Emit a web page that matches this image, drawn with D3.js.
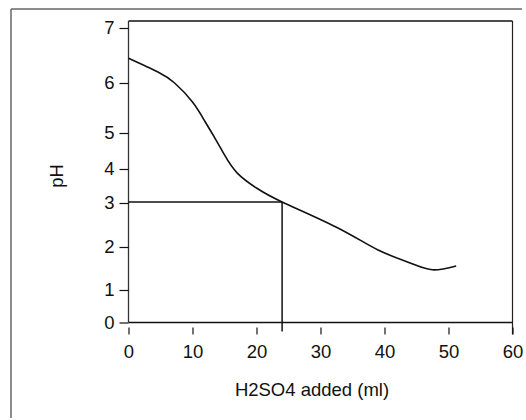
<!DOCTYPE html>
<html>
<head>
    <title>pH vs H2SO4 added</title>
    <script src="https://d3js.org/d3.v7.min.js"></script>
    <style>
        body { margin: 0; background: #fff; }
        text { font-family: "Liberation Sans", Arial, sans-serif; fill: #111; }
        .axis text { font-size: 18.5px; }
        .axis-title { font-size: 18.5px; }
    </style>
</head>
<body>
<div id="chart"></div>
<script>
    // data
    const volume = [0, 4.6, 7.2, 10, 12, 13.5, 15, 17, 20, 24, 32.5, 39, 44, 47.5, 51.2];
    const ph = [6.45, 6.2, 6.0, 5.62, 5.22, 4.86, 4.39, 3.88, 3.44, 3.03, 2.45, 1.93, 1.63, 1.47, 1.56];
    const markX = 24;
    const markY = 3.03;
    const xTicks = [0, 10, 20, 30, 40, 50, 60];
    const yTicks = [0, 1, 2, 3, 4, 5, 6, 7];

    const W = 526, H = 420;
    const plotL = 128.5, plotR = 512.5, plotT = 21, plotB = 322.5;

    const svg = d3.select("#chart").append("svg")
        .attr("width", W).attr("height", H);

    // the y axis of the original is drawn by hand, so the spacing is uneven
    const x = d3.scaleLinear().domain([0, 60]).range([plotL, plotR]);
    const y = d3.scaleLinear().domain(yTicks).range([322.5, 290, 247, 203, 169, 133, 83, 28]);

    // scan border (top and left only)
    svg.append("line").attr("x1", 11).attr("x2", 522).attr("y1", 9).attr("y2", 9)
        .attr("stroke", "#666").attr("stroke-width", 1.5);
    svg.append("line").attr("x1", 11).attr("x2", 11).attr("y1", 9).attr("y2", 418)
        .attr("stroke", "#666").attr("stroke-width", 1.5);

    // plot frame
    svg.append("line").attr("x1", plotL).attr("x2", plotR).attr("y1", plotT).attr("y2", plotT)
        .attr("stroke", "#111").attr("stroke-width", 1.3);
    svg.append("line").attr("x1", plotR).attr("x2", plotR).attr("y1", plotT).attr("y2", plotB + 12)
        .attr("stroke", "#222").attr("stroke-width", 1.2);
    svg.append("line").attr("x1", plotL).attr("x2", plotL).attr("y1", plotT).attr("y2", plotB)
        .attr("stroke", "#333").attr("stroke-width", 1.3);
    svg.append("line").attr("x1", plotL).attr("x2", plotR).attr("y1", plotB).attr("y2", plotB)
        .attr("stroke", "#111").attr("stroke-width", 1.3);

    // y axis
    const yAxis = svg.append("g")
        .attr("class", "axis")
        .attr("transform", `translate(${plotL},0)`)
        .call(d3.axisLeft(y).tickValues(yTicks).tickFormat(d3.format("d")).tickSize(9).tickPadding(5));
    yAxis.select(".domain").remove();
    yAxis.selectAll("line").attr("stroke", "#111").attr("stroke-width", 1.2);

    // x axis (tick marks sit a little below the axis line)
    const xAxis = svg.append("g")
        .attr("class", "axis")
        .attr("transform", `translate(0,${plotB + 5})`)
        .call(d3.axisBottom(x).tickValues(xTicks).tickSize(7).tickPadding(10));
    xAxis.select(".domain").remove();
    xAxis.selectAll("line").attr("stroke", "#111").attr("stroke-width", 1.2);

    // reading lines
    svg.append("line")
        .attr("x1", x(0)).attr("x2", x(markX))
        .attr("y1", y(markY)).attr("y2", y(markY))
        .attr("stroke", "#111").attr("stroke-width", 1.3);
    svg.append("line")
        .attr("x1", x(markX)).attr("x2", x(markX))
        .attr("y1", y(markY)).attr("y2", plotB + 9)
        .attr("stroke", "#111").attr("stroke-width", 1.5);

    // curve
    const line = d3.line()
        .x((d, i) => x(volume[i]))
        .y(d => y(d))
        .curve(d3.curveNatural);
    svg.append("path")
        .datum(ph)
        .attr("d", line)
        .attr("fill", "none")
        .attr("stroke", "#111")
        .attr("stroke-width", 1.6);

    // titles
    svg.append("text")
        .attr("class", "axis-title")
        .attr("x", 312)
        .attr("y", 396)
        .attr("text-anchor", "middle")
        .text("H2SO4 added (ml)");

    svg.append("text")
        .attr("class", "axis-title")
        .attr("transform", "translate(63,176) rotate(-90)")
        .attr("text-anchor", "middle")
        .text("pH");
</script>
</body>
</html>
